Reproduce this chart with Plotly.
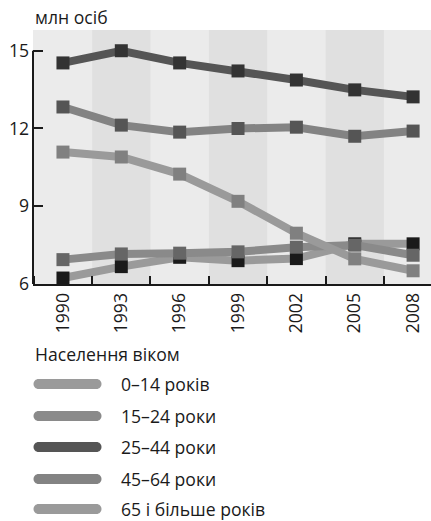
import plotly.graph_objects as go

# Роки та значення (млн осіб)
roky = [1990, 1993, 1996, 1999, 2002, 2005, 2008]
vik_0_14 = [11.09, 10.9, 10.24, 9.19, 7.96, 6.97, 6.51]
vik_15_24 = [6.94, 7.16, 7.19, 7.24, 7.42, 7.5, 7.11]
vik_25_44 = [14.53, 15.0, 14.53, 14.22, 13.87, 13.49, 13.22]
vik_45_64 = [12.83, 12.13, 11.86, 12.0, 12.05, 11.7, 11.9]
vik_65 = [6.23, 6.67, 7.03, 6.9, 6.98, 7.55, 7.55]

y_ticks = [6, 9, 12, 15]

# назва, значення, колір лінії, колір маркера
serii = [
    ('0–14 років', vik_0_14, '#9a9a9a', '#808080'),
    ('15–24 роки', vik_15_24, '#8a8a8a', '#666666'),
    ('25–44 роки', vik_25_44, '#555555', '#333333'),
    ('45–64 роки', vik_45_64, '#838383', '#555555'),
    ('65 і більше років', vik_65, '#9a9a9a', '#1a1a1a'),
]

# порядок малювання (знизу вгору)
poryadok = [4, 1, 0, 3, 2]

SHRIFT = 'Open Sans'
FS = 17.6
W, H = 431, 521
ML, MT, MB = 33, 30, 237
plot_h = H - MT - MB
plot_w = W - ML


def py2paper(py):
    # піксель від верху сторінки -> координата paper по y
    return (MT + plot_h - py) / plot_h


def px2paper(px):
    return (px - ML) / plot_w


fig = go.Figure()

for i in poryadok:
    nazva, vals, c_line, c_mark = serii[i]
    fig.add_trace(go.Scatter(
        x=roky,
        y=vals,
        mode='lines+markers',
        name=nazva,
        line=dict(color=c_line, width=8),
        marker=dict(symbol='square', size=13, color=c_mark, line=dict(width=0)),
        showlegend=False,
        hovertemplate=f'<b>{nazva}</b><br>%{{x}}: %{{y:.2f}} млн<extra></extra>'
    ))

# смуги фону
shapes = []
for k, r in enumerate(roky):
    if k % 2 == 1:
        shapes.append(dict(type='rect', xref='x', yref='paper', x0=r - 1.5, x1=r + 1.5,
                           y0=0, y1=1, fillcolor='#e0e0e0', line=dict(width=0), layer='below'))

# вісь Y тільки до 15
shapes.append(dict(type='line', xref='paper', yref='y', x0=0, x1=0, y0=y_ticks[0], y1=y_ticks[-1],
                   line=dict(color='#1a1a1a', width=2)))

txt_font = dict(size=FS, color='#1a1a1a', family=SHRIFT)
annotations = [
    dict(text='млн осіб', xref='paper', yref='paper', x=0, y=py2paper(17),
         showarrow=False, xanchor='left', yanchor='middle', font=txt_font),
    dict(text='Населення віком', xref='paper', yref='paper', x=0, y=py2paper(354),
         showarrow=False, xanchor='left', yanchor='middle', font=txt_font),
]

# легенда вручну
leg_y = [384, 416, 447, 479, 509]
stadion = ('M -29,-5 L 29,-5 C 31.76,-5 34,-2.76 34,0 C 34,2.76 31.76,5 29,5 '
           'L -29,5 C -31.76,5 -34,2.76 -34,0 C -34,-2.76 -31.76,-5 -29,-5 Z')
for (nazva, vals, c_line, c_mark), py in zip(serii, leg_y):
    yp = py2paper(py)
    shapes.append(dict(type='path', xref='paper', yref='paper', xsizemode='pixel', ysizemode='pixel',
                       xanchor=px2paper(67.5), yanchor=yp, path=stadion,
                       fillcolor=c_line, line=dict(width=0)))
    annotations.append(dict(text=nazva, xref='paper', yref='paper', x=px2paper(119), y=yp,
                            showarrow=False, xanchor='left', yanchor='middle', font=txt_font))

fig.update_layout(
    width=W,
    height=H,
    margin=dict(l=ML, r=0, t=MT, b=MB),
    plot_bgcolor='#ebebeb',
    paper_bgcolor='white',
    font=dict(family=SHRIFT, size=FS, color='#1a1a1a'),
    showlegend=False,
    shapes=shapes,
    annotations=annotations,
    xaxis=dict(
        range=[1988.46, 2008.92],
        tickmode='array',
        tickvals=roky,
        ticktext=[str(r) for r in roky],
        tickangle=-90,
        ticks='',
        showline=True,
        linecolor='#1a1a1a',
        linewidth=2,
        showgrid=False,
        zeroline=False,
        minor=dict(tickmode='linear', tick0=1991.5, dtick=3, ticks='inside', ticklen=8,
                   tickwidth=2, tickcolor='#1a1a1a', showgrid=False),
        tickfont=dict(size=FS),
    ),
    yaxis=dict(
        range=[6, 15.8],
        tickmode='array',
        tickvals=y_ticks,
        ticks='inside',
        ticklen=10,
        tickwidth=2,
        tickcolor='#1a1a1a',
        ticklabelstandoff=3,
        showline=False,
        showgrid=False,
        zeroline=False,
        tickfont=dict(size=FS),
    ),
)

fig.write_html('out.html', config={'displayModeBar': False},
               post_script="document.body.style.margin='0';")
